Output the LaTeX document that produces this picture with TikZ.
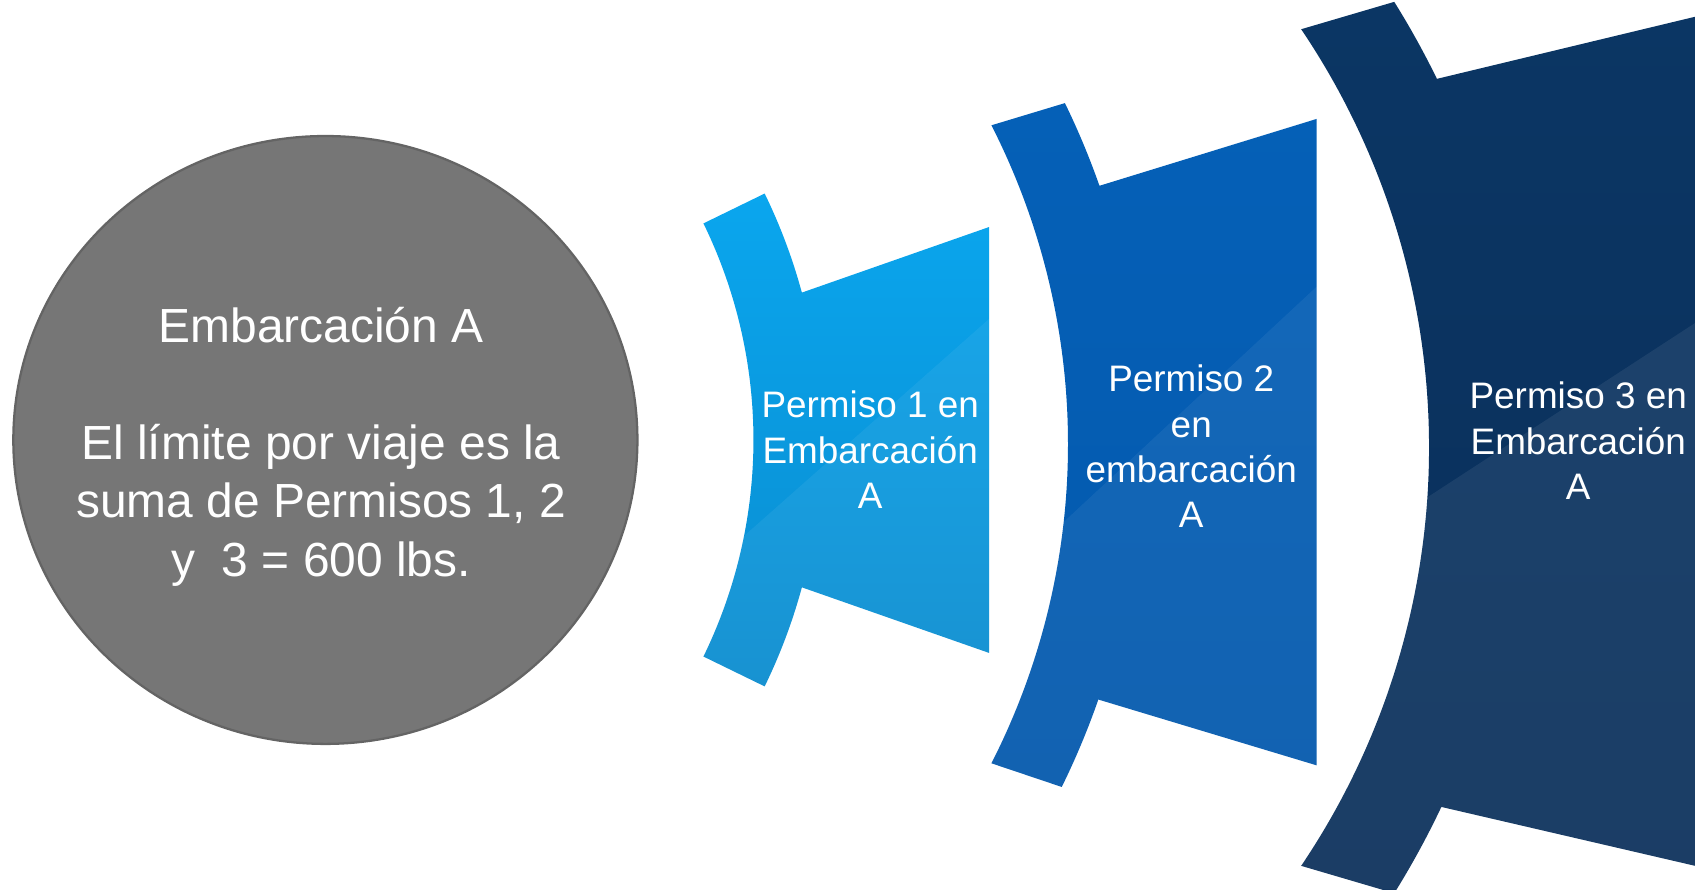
\documentclass[tikz,border=0pt]{standalone}
\usepackage{fontspec}
\setmainfont{Liberation Sans}
\usetikzlibrary{shapes.geometric}
\definecolor{gris}{HTML}{767676}
\definecolor{azulA}{HTML}{0AA6EE}
\definecolor{azulAb}{HTML}{0A8CCF}
\definecolor{azulB}{HTML}{0560B7}
\definecolor{azulBb}{HTML}{0459AD}
\definecolor{azulC}{HTML}{0B3664}
\definecolor{azulCb}{HTML}{0A2F5A}

\newcommand{\formaUno}{([shift={(26:457)}]c1) -- ([shift={(26:520)}]c1) arc[start angle=26, end angle=15.2, radius=520] -- (915,613) -- (915,219) -- ([shift={(-15.2:520)}]c1) arc[start angle=-15.2, end angle=-26, radius=520] -- ([shift={(-26:457)}]c1) arc[start angle=-26, end angle=26, radius=457] -- cycle}
\newcommand{\formaDos}{([shift={(27:650)}]c2) -- ([shift={(26:720)}]c2) arc[start angle=26, end angle=19.4, radius=720] -- (1218,713) -- (1218,115) -- ([shift={(-19.2:718)}]c2) arc[start angle=-19.2, end angle=-26.2, radius=718] -- ([shift={(-27:650)}]c2) arc[start angle=-27, end angle=27, radius=650] -- cycle}
\newcommand{\formaTres}{([shift={(34:692)}]c3) -- ([shift={(32:778)}]c3) arc[start angle=32, end angle=26, radius=778] -- (1620,820) -- (1620,10) -- ([shift={(-25.3:778)}]c3) arc[start angle=-25.3, end angle=-32, radius=778] -- ([shift={(-34:692)}]c3) arc[start angle=-34, end angle=34, radius=692] -- cycle}

\begin{document}
\begin{tikzpicture}
		[x=0.01cm, y=0.01cm,
		circulo/.style = {ellipse, fill=gris, draw=gris!85!black, line width=0.6pt, minimum width=5.77cm, minimum height=5.62cm, inner sep=0pt},
		grande/.style = {text=white, align=center, font={\fontsize{12.6}{15.4}\selectfont}},
		txt/.style = {text=white, align=center, font={\fontsize{9.7}{11.95}\selectfont}},
		brillo/.style = {fill=white, fill opacity=0.06}]
	\useasboundingbox (0,0) rectangle (1568,823);
	\clip (0,0) rectangle (1568,823);
	\coordinate (c1) at (240,416);
	\coordinate (c2) at (338,412);
	\coordinate (c3) at (630,409);
	\node[circulo] (emb) at (301,416) {};
	\node[grande] (embt) at (297,410) {Embarcación A\\[15.4pt]El límite por viaje es la\\suma de Permisos 1, 2\\y \ 3 = 600 lbs.};
	\shade[top color=azulA, bottom color=azulAb] \formaUno;
	\begin{scope}
		\clip \formaUno;
		\fill[brillo] (600,249) -- (950,559) -- (950,0) -- (600,0) -- cycle;
	\end{scope}
	\shade[top color=azulB, bottom color=azulBb] \formaDos;
	\begin{scope}
		\clip \formaDos;
		\fill[brillo] (900,262) -- (1230,569) -- (1230,0) -- (900,0) -- cycle;
	\end{scope}
	\shade[top color=azulC, bottom color=azulCb] \formaTres;
	\begin{scope}
		\clip \formaTres;
		\fill[brillo, fill opacity=0.07] (1150,252) -- (1620,558) -- (1620,0) -- (1150,0) -- cycle;
	\end{scope}
	\node[txt] (p1) at (805,407) {Permiso 1 en\\Embarcación\\A};
	\node[txt] (p2) at (1102,410) {Permiso 2\\en\\embarcación\\A};
	\node[txt] (p3) at (1460,415) {Permiso 3 en\\Embarcación\\A};
\end{tikzpicture}
\end{document}
